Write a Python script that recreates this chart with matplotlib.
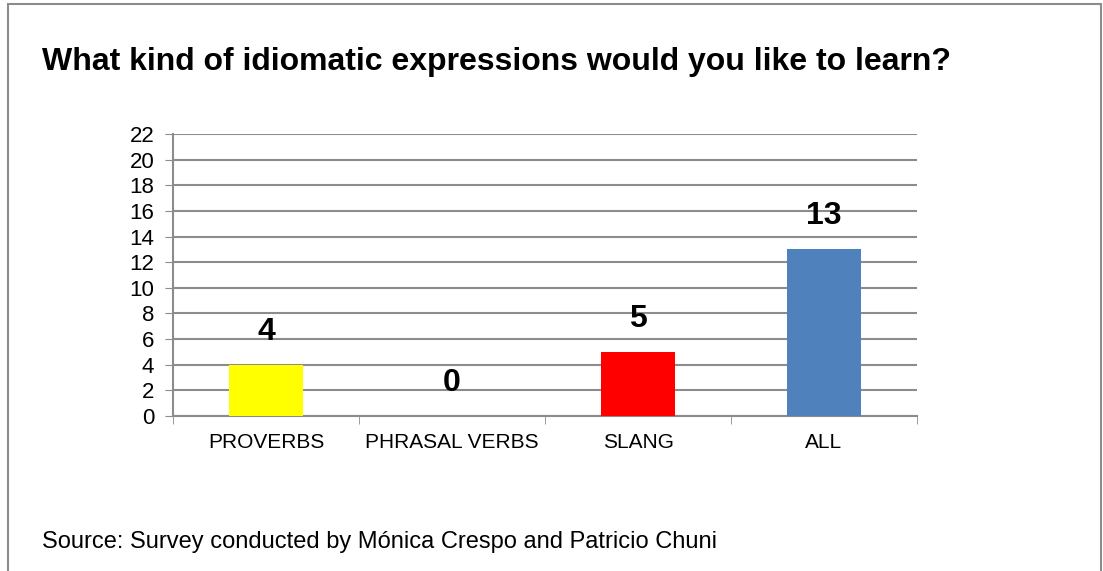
import matplotlib.pyplot as plt
from matplotlib.patches import Rectangle

plt.rcParams['font.family'] = ['Liberation Sans', 'DejaVu Sans']

# survey answers
categories = ['PROVERBS', 'PHRASAL VERBS', 'SLANG', 'ALL']
answers = [4, 0, 5, 13]
bar_colors = ['#FFFF00', '#FFFF00', '#FF0000', '#4F81BD']

title = 'What kind of idiomatic expressions would you like to learn?'
source = 'Source: Survey conducted by Mónica Crespo and Patricio Chuni'

grid_gray = '#8C8C8C'

fig = plt.figure(figsize=(11.03, 5.71), dpi=100)
ax = fig.add_axes([173 / 1103, 1 - 416 / 571, (917 - 173) / 1103, (416 - 134) / 571])

x = list(range(len(categories)))
bars = ax.bar(x, answers, width=0.40, color=bar_colors, zorder=3)

ax.set_xlim(-0.5, len(categories) - 0.5)
ax.set_ylim(0, 22)
ax.set_yticks(range(0, 23, 2))
ax.tick_params(axis='y', labelsize=16, length=5.5, color=grid_gray, pad=8)

# category names centred, tick marks between categories
ax.set_xticks(x)
ax.set_xticklabels(categories)
ax.set_xticks([i - 0.5 for i in range(len(categories) + 1)], minor=True)
ax.tick_params(axis='x', which='major', length=0, labelsize=15, pad=12)
ax.tick_params(axis='x', which='minor', length=6, color=grid_gray)

ax.grid(axis='y', color=grid_gray, linewidth=1.5, zorder=0)
for side in ['top', 'right']:
    ax.spines[side].set_visible(False)
for side in ['left', 'bottom']:
    ax.spines[side].set_color(grid_gray)
    ax.spines[side].set_linewidth(1.5)

# value labels above the bars
for xi, v in zip(x, answers):
    ax.annotate(str(v), (xi, v), xytext=(0, 13), textcoords='offset points',
                ha='center', va='bottom', fontsize=23, fontweight='bold')

fig.text(42 / 1103, 1 - 70 / 571, title, fontsize=23, fontweight='bold',
         ha='left', va='baseline')
fig.text(42 / 1103, 1 - 548 / 571, source, fontsize=17, ha='left', va='baseline')

# outer frame, open at the bottom
frame = Rectangle((8 / 1103, -0.05), (1101 - 8) / 1103, 1.05 - 4 / 571,
                  transform=fig.transFigure, fill=False, edgecolor='#8C8C8C',
                  linewidth=1.5)
fig.patches.append(frame)

fig.savefig('out.png', dpi=100)
